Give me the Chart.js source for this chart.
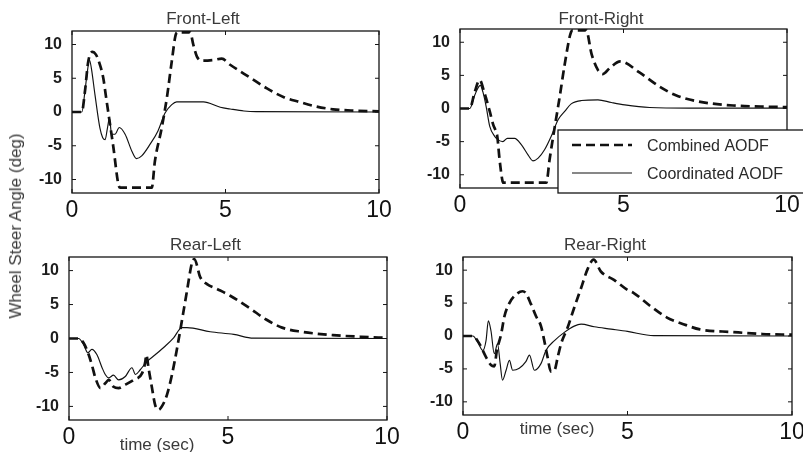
<!DOCTYPE html>
<html>
<head>
<meta charset="utf-8">
<script src="https://cdn.jsdelivr.net/npm/chart.js@4.4.1/dist/chart.umd.min.js"></script>
<style>
  html, body { margin: 0; padding: 0; background: #fff; overflow: hidden; }
  #page { position: relative; width: 803px; height: 452px; overflow: hidden; background: #fff;
          font-family: 'Liberation Sans', Arial, sans-serif; color: #333; }
  #page canvas { position: absolute; }
  .lbl { position: absolute; white-space: nowrap; font-size: 17px; color: #3a3a3a; }
  #ylabel { left: 16px; top: 226px; transform: translate(-50%, -50%) rotate(-90deg); }
  #tleft { left: 157px; top: 445px; transform: translate(-50%, -50%); }
  #tright { left: 557px; top: 429px; transform: translate(-50%, -50%); }
</style>
</head>
<body>
<div id="page">
  <canvas id="fl" width="370" height="225" style="left:27px;top:0px"></canvas>
  <canvas id="fr" width="388" height="222" style="left:415px;top:-2px"></canvas>
  <canvas id="rl" width="381" height="226" style="left:24px;top:226px"></canvas>
  <canvas id="rr" width="388" height="221" style="left:418px;top:226px"></canvas>
  <div class="lbl" id="ylabel">Wheel Steer Angle (deg)</div>
  <div class="lbl" id="tleft">time (sec)</div>
  <div class="lbl" id="tright">time (sec)</div>
</div>
<script>
// tick labels
const X_TICKS = [0, 5, 10];
const Y_TICKS = [-10, -5, 0, 5, 10];
const SERIES_NAMES = ['Combined AODF', 'Coordinated AODF'];

// Front-Left
const FL_COMB_T = [0, 0.32, 0.42, 0.53, 0.67, 0.78, 0.86, 1.02, 1.1, 1.18, 1.35, 1.51, 1.57, 2.6, 2.7, 2.92, 3.09, 3.25, 3.39, 3.45, 3.85, 3.95, 4.07, 4.23, 4.6, 4.88, 5.15, 5.8, 6.35, 6.9, 7.4, 7.97, 8.5, 9.2, 10];
const FL_COMB_Y = [0, 0, 3, 7.5, 8.9, 8.5, 7.7, 5, 2.5, 0, -5.3, -10.7, -11.2, -11.2, -7.3, -2.4, 2.1, 7.5, 11.6, 11.8, 11.8, 10, 8.2, 7.6, 7.7, 7.9, 7, 5.1, 3.5, 2.2, 1.5, 0.8, 0.4, 0.2, 0.1];
const FL_COORD_T = [0, 0.32, 0.42, 0.5, 0.57, 0.63, 0.75, 0.91, 1.0, 1.08, 1.15, 1.22, 1.29, 1.4, 1.54, 1.73, 1.95, 2.1, 2.27, 2.54, 2.8, 3.03, 3.25, 3.41, 4.28, 4.83, 5.15, 5.6, 6, 10];
const FL_COORD_Y = [0, 0, 3, 6, 7.7, 6.5, 2.5, -2.4, -3.8, -4.1, -2.5, -0.9, -3.3, -3.3, -2.3, -3.3, -5.8, -6.9, -6.5, -4.8, -2.8, -0.15, 1.1, 1.5, 1.5, 0.7, 0.45, 0.15, 0.05, 0];

// Front-Right
const FR_COMB_T = [0, 0.3, 0.45, 0.6, 0.75, 0.91, 1.02, 1.08, 1.14, 1.21, 1.29, 1.32, 2.64, 2.74, 2.9, 3.05, 3.2, 3.4, 3.45, 3.86, 4.02, 4.22, 4.37, 4.58, 4.9, 5.5, 6.1, 6.6, 7.3, 8.35, 9.2, 10];
const FR_COMB_Y = [0, 0, 2.5, 4.3, 2.3, -0.45, -2.5, -3.2, -4.2, -7.7, -10.7, -11.2, -11.2, -7.7, -2.7, 1.8, 6.6, 11.6, 11.8, 11.8, 8.3, 5.8, 5.2, 6.1, 7.1, 5.4, 3.3, 2.0, 1.05, 0.45, 0.3, 0.2];
const FR_COORD_T = [0, 0.3, 0.45, 0.62, 0.7, 0.8, 0.91, 1.06, 1.16, 1.31, 1.45, 1.67, 1.88, 2.08, 2.23, 2.39, 2.59, 2.79, 3.0, 3.2, 3.4, 3.71, 4.22, 4.63, 5.04, 5.8, 7, 10];
const FR_COORD_Y = [0, 0, 2, 3.5, 2.5, 0.3, -2.7, -4.2, -4.7, -5, -4.5, -4.5, -5.5, -7, -7.9, -7.5, -6.2, -4.2, -1.7, -0.45, 0.7, 1.2, 1.3, 0.9, 0.55, 0.15, 0.05, 0.05];

// Rear-Left
const RL_COMB_T = [0, 0.3, 0.46, 0.62, 0.72, 0.83, 0.99, 1.14, 1.25, 1.4, 1.56, 1.77, 2.03, 2.3, 2.4, 2.43, 2.5, 2.61, 2.71, 2.82, 2.92, 3.08, 3.24, 3.4, 3.55, 3.71, 3.87, 3.94, 4.13, 4.34, 4.65, 5.07, 5.7, 6.2, 6.7, 7.3, 8.3, 9.2, 10];
const RL_COMB_Y = [0, 0, -0.65, -2.4, -3.9, -5.8, -7.3, -6.6, -6.1, -7.1, -7.3, -6.8, -6.1, -5.1, -3.4, -2.4, -4.3, -7.3, -9.8, -10.5, -10, -8.3, -5.3, -1.4, 2.6, 7, 11.2, 11.7, 9, 8, 7.3, 6.3, 4.4, 2.8, 1.6, 1.0, 0.5, 0.25, 0.1];
const RL_COORD_T = [0, 0.3, 0.46, 0.59, 0.72, 0.88, 1.04, 1.14, 1.25, 1.4, 1.56, 1.77, 1.98, 2.09, 2.24, 2.45, 2.71, 3.03, 3.29, 3.55, 3.71, 4.44, 5.18, 5.8, 10];
const RL_COORD_Y = [0, 0, -0.9, -2.1, -1.6, -2.4, -4.3, -5.3, -5.8, -5.4, -6.1, -5.6, -4.3, -5.3, -4.6, -3.4, -2.4, -1.1, 0.1, 1.6, 1.6, 1.0, 0.6, 0.05, 0];

// Rear-Right
const RR_COMB_T = [0, 0.3, 0.5, 0.7, 0.85, 0.95, 1.03, 1.16, 1.26, 1.41, 1.61, 1.81, 1.91, 2.07, 2.22, 2.37, 2.47, 2.57, 2.67, 2.78, 2.88, 2.98, 3.18, 3.38, 3.59, 3.79, 3.97, 4.19, 4.6, 5.0, 5.17, 5.68, 6.2, 6.7, 7.2, 8.2, 9.1, 10];
const RR_COMB_Y = [0, 0, -1.2, -3.2, -4.4, -4.6, -2.2, 0.3, 3, 5, 6.3, 6.8, 6.5, 4.8, 3, 1.5, -0.7, -3.2, -5.4, -5.2, -3.2, -1.2, 1.3, 4.3, 7.3, 10.2, 11.6, 9.8, 8.5, 7.0, 6.6, 4.6, 2.8, 1.8, 1.0, 0.6, 0.3, 0.2];
const RR_COORD_T = [0, 0.3, 0.45, 0.6, 0.7, 0.77, 0.85, 0.95, 1.05, 1.13, 1.2, 1.31, 1.41, 1.51, 1.71, 1.91, 2.02, 2.17, 2.37, 2.52, 2.78, 3.08, 3.38, 3.59, 3.99, 4.5, 5.0, 5.8, 10];
const RR_COORD_Y = [0, 0, -0.95, -2.2, -0.7, 2.3, 0.8, -2.7, -1.2, -4.2, -6.7, -5.2, -3.7, -5.2, -4.9, -3.9, -2.9, -5.2, -4.2, -2.2, -0.7, 0.55, 1.5, 1.8, 1.4, 1.05, 0.7, 0.05, 0];

const FONT = "'Liberation Sans', Arial, sans-serif";

const pts = (ts, ys) => ts.map((t, i) => ({ x: t, y: ys[i] }));

// MATLAB-like box with inward ticks on all four sides
const boxPlugin = {
  id: 'matlabBox',
  afterDatasetsDraw(chart) {
    const { ctx, chartArea: a, scales } = chart;
    ctx.save();
    ctx.strokeStyle = '#151515';
    ctx.lineWidth = 1.3;
    ctx.strokeRect(a.left, a.top, a.right - a.left, a.bottom - a.top);
    ctx.lineWidth = 1;
    ctx.beginPath();
    X_TICKS.forEach((v) => {
      const px = scales.x.getPixelForValue(v);
      ctx.moveTo(px, a.bottom); ctx.lineTo(px, a.bottom - 4);
      ctx.moveTo(px, a.top); ctx.lineTo(px, a.top + 4);
    });
    Y_TICKS.forEach((v) => {
      const py = scales.y.getPixelForValue(v);
      ctx.moveTo(a.left, py); ctx.lineTo(a.left + 4, py);
      ctx.moveTo(a.right, py); ctx.lineTo(a.right - 4, py);
    });
    ctx.stroke();
    ctx.restore();
  },
};

// boxed legend drawn only on the Front-Right panel
const legendPlugin = {
  id: 'aodfLegend',
  afterDraw(chart, args, opts) {
    if (!opts.display) return;
    const { ctx } = chart;
    const b = opts.box;
    ctx.save();
    ctx.fillStyle = '#fff';
    ctx.fillRect(b.left, b.top, b.right - b.left, b.bottom - b.top);
    ctx.strokeStyle = '#151515';
    ctx.lineWidth = 1.3;
    ctx.strokeRect(b.left, b.top, b.right - b.left, b.bottom - b.top);
    chart.data.datasets.forEach((ds, i) => {
      const y = opts.rows[i];
      ctx.strokeStyle = ds.borderColor;
      ctx.lineWidth = ds.borderWidth;
      ctx.setLineDash(ds.borderDash || []);
      ctx.beginPath();
      ctx.moveTo(opts.sampleX[0], y);
      ctx.lineTo(opts.sampleX[1], y);
      ctx.stroke();
      ctx.setLineDash([]);
      ctx.fillStyle = '#2a2a2a';
      ctx.font = `16px ${FONT}`;
      ctx.textBaseline = 'middle';
      ctx.fillText(ds.label, opts.textX, y + 2);
    });
    ctx.restore();
  },
};

function makePanel(id, title, comb, coord, padRight, titleTop, legend) {
  return new Chart(document.getElementById(id), {
    type: 'line',
    data: {
      datasets: [
        {
          label: SERIES_NAMES[0],
          data: comb,
          borderColor: '#111',
          borderWidth: 2.7,
          borderDash: [9, 5],
          pointRadius: 0,
          cubicInterpolationMode: 'monotone',
          fill: false,
        },
        {
          label: SERIES_NAMES[1],
          data: coord,
          borderColor: '#111',
          borderWidth: 1.15,
          pointRadius: 0,
          cubicInterpolationMode: 'monotone',
          fill: false,
        },
      ],
    },
    options: {
      responsive: false,
      animation: false,
      layout: { padding: { left: 0, right: padRight, top: 0, bottom: 0 } },
      plugins: {
        legend: { display: false },
        tooltip: { enabled: false },
        title: {
          display: true,
          text: title,
          color: '#3a3a3a',
          font: { family: FONT, size: 17, weight: 'normal', lineHeight: 1.2 },
          padding: { top: titleTop, bottom: 10.6 - titleTop },
        },
        aodfLegend: legend || { display: false },
      },
      scales: {
        x: {
          type: 'linear',
          min: 0,
          max: 10,
          afterBuildTicks: (s) => { s.ticks = X_TICKS.map((v) => ({ value: v })); },
          afterFit: (s) => { s.height = 32; s.paddingLeft = 0; s.paddingRight = 0; },
          grid: { display: false, drawTicks: false },
          border: { display: false },
          ticks: { color: '#111', font: { family: FONT, size: 23 }, padding: 4, maxRotation: 0 },
        },
        y: {
          min: -12,
          max: 12,
          afterBuildTicks: (s) => { s.ticks = Y_TICKS.map((v) => ({ value: v })); },
          afterFit: (s) => { s.width = 45; s.paddingTop = 0; s.paddingBottom = 0; },
          grid: { display: false, drawTicks: false },
          border: { display: false },
          ticks: { color: '#1e1e1e', font: { family: FONT, size: 16, weight: 'bold' }, padding: 10 },
        },
      },
    },
    plugins: [boxPlugin, legendPlugin],
  });
}

makePanel('fl', 'Front-Left', pts(FL_COMB_T, FL_COMB_Y), pts(FL_COORD_T, FL_COORD_Y), 18, 9);
makePanel('fr', 'Front-Right', pts(FR_COMB_T, FR_COMB_Y), pts(FR_COORD_T, FR_COORD_Y), 16, 11, {
  display: true,
  box: { left: 143, top: 132, right: 392, bottom: 195 },
  rows: [147, 175],
  sampleX: [157, 217],
  textX: 232,
});
makePanel('rl', 'Rear-Left', pts(RL_COMB_T, RL_COMB_Y), pts(RL_COORD_T, RL_COORD_Y), 18, 9);
makePanel('rr', 'Rear-Right', pts(RR_COMB_T, RR_COMB_Y), pts(RR_COORD_T, RR_COORD_Y), 14, 9);
</script>
</body>
</html>
